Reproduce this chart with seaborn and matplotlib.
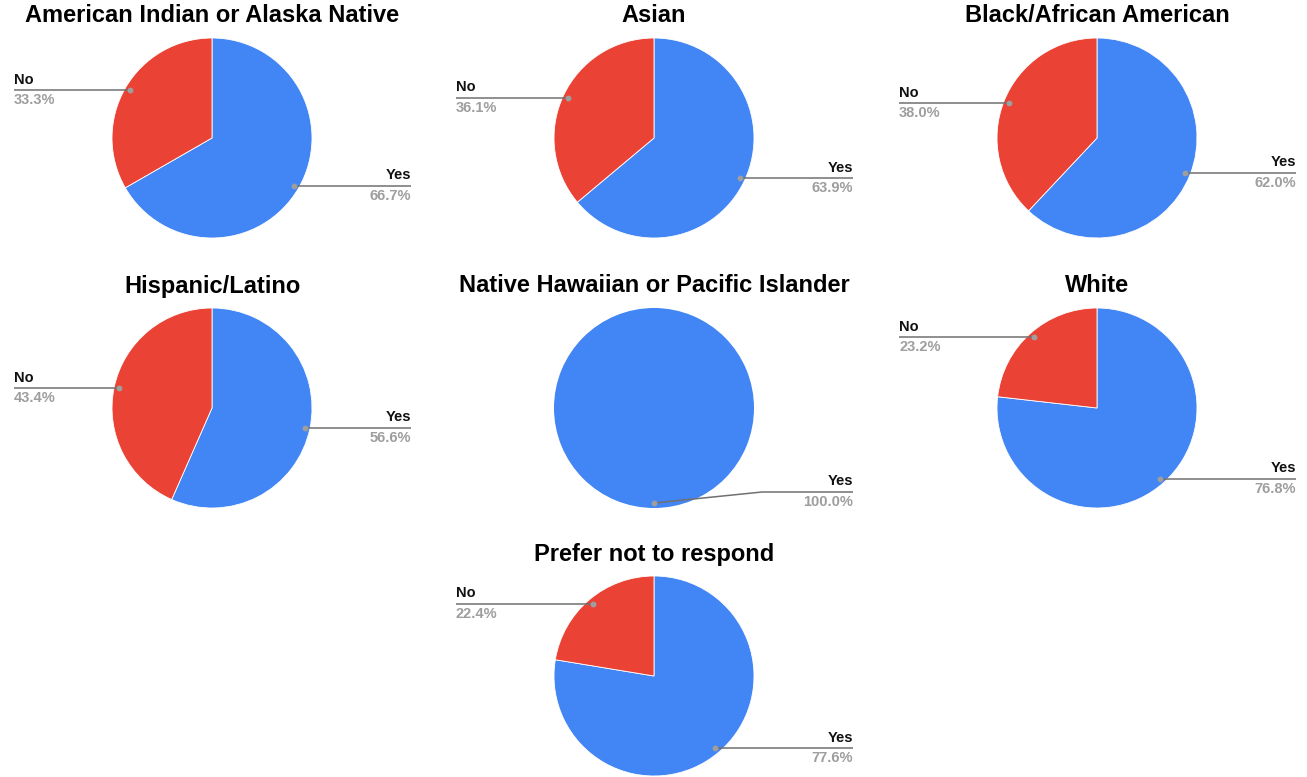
import numpy as np
import matplotlib
matplotlib.use("Agg")
import matplotlib.pyplot as plt
import seaborn as sns

# Survey answers by group (percent of respondents)
groups = [
    "American Indian or Alaska Native",
    "Asian",
    "Black/African American",
    "Hispanic/Latino",
    "Native Hawaiian or Pacific Islander",
    "White",
    "Prefer not to respond",
]
answers = ["Yes", "No"]
yes_pct = [66.7, 63.9, 62.0, 56.6, 100.0, 76.8, 77.6]
no_pct = [33.3, 36.1, 38.0, 43.4, 0.0, 23.2, 22.4]

sns.set_theme(style="white")
plt.rcParams["font.family"] = ["Liberation Sans", "DejaVu Sans"]

palette = {"Yes": "#4285F4", "No": "#EA4335"}
W, H = 1307, 777
R = 100  # pie radius in pixels
centers = [(212, 138), (654, 138), (1097, 138),
           (212, 408), (654, 408), (1097, 408),
           (654, 676)]

fig = plt.figure(figsize=(W / 100, H / 100), dpi=100)
fig.patch.set_facecolor("white")

for name, y, n, (cx, cy) in zip(groups, yes_pct, no_pct, centers):
    ax = fig.add_axes([(cx - 2.1 * R) / W, (H - cy - 1.1 * R) / H,
                       4.2 * R / W, 2.2 * R / H])
    # skip empty slices so they leave no seam
    parts = [(lab, v) for lab, v in zip(answers, [y, n]) if v > 0]
    labs = [p[0] for p in parts]
    vals = [p[1] for p in parts]
    lw = 0.6 if len(vals) > 1 else 0
    wedges, _ = ax.pie(vals, colors=[palette[l] for l in labs], startangle=90,
                       counterclock=False,
                       wedgeprops=dict(linewidth=lw, edgecolor="white"))
    ax.set_xlim(-2.1, 2.1)
    ax.set_ylim(-1.1, 1.1)
    ax.set_aspect("equal")
    ax.axis("off")

    for w, lab, v in zip(wedges, labs, vals):
        mid = np.deg2rad((w.theta1 + w.theta2) / 2)
        dx, dy = 0.95 * np.cos(mid), 0.95 * np.sin(mid)
        ly = float(np.clip(dy, -0.84, 0.84))
        right = dx >= -1e-6
        lx = 1.99 if right else -1.98
        ha = "right" if right else "left"
        if abs(ly - dy) > 1e-6:
            bx = 1.08 if right else -1.08
            ax.plot([dx, bx, lx], [dy, ly, ly], color="#707070", lw=1.1,
                    solid_capstyle="butt", zorder=3)
        else:
            ax.plot([dx, lx], [dy, ly], color="#707070", lw=1.1,
                    solid_capstyle="butt", zorder=3)
        ax.plot([dx], [dy], marker="o", ms=4.2, color="#9E9E9E",
                mec="none", zorder=4)
        ax.text(lx, ly + 0.035, lab, ha=ha, va="bottom", fontsize=10.5,
                fontweight="bold", color="#111111")
        ax.text(lx, ly - 0.03, f"{v:.1f}%", ha=ha, va="top", fontsize=10.5,
                color="#9E9E9E", fontweight="bold")

    fig.text(cx / W, (H - (cy - 122)) / H, name, ha="center", va="center",
             fontsize=17, fontweight="bold", color="#000000")

fig.savefig("out.png", dpi=100, facecolor="white")
